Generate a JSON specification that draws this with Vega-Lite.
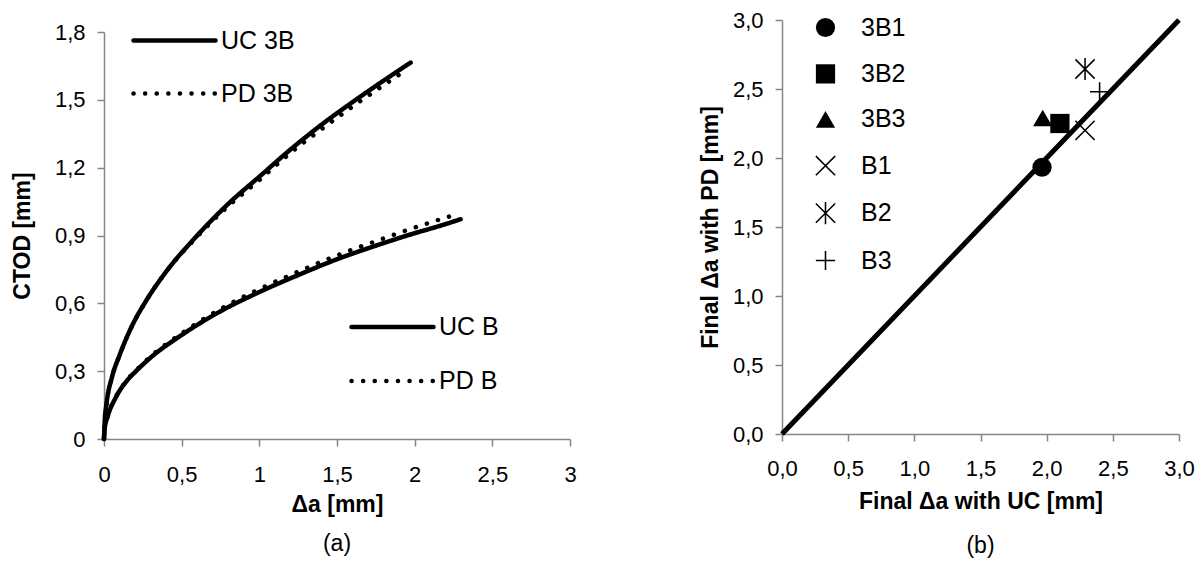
{
  "$schema": "https://vega.github.io/schema/vega-lite/v6.json",
  "background": "white",
  "padding": {"left": 11, "top": 9, "right": 0, "bottom": 0},
  "bounds": "flush",
  "spacing": 212,
  "resolve": {"scale": {"shape": "independent", "strokeDash": "independent"}, "legend": {"shape": "independent", "strokeDash": "independent"}},
  "config": {
    "view": {"stroke": null},
    "font": "Liberation Sans",
    "axis": {
      "grid": false,
      "labelFlush": false,
      "domainColor": "#868686",
      "tickColor": "#868686",
      "domainWidth": 1.5,
      "tickWidth": 1.5,
      "tickSize": 7,
      "labelColor": "black",
      "labelFont": "Liberation Sans",
      "labelFontSize": 22,
      "titleColor": "black",
      "titleFont": "Liberation Sans",
      "titleFontSize": 23,
      "titleFontWeight": "bold"
    },
    "title": {"orient": "bottom", "fontSize": 23, "fontWeight": "normal", "font": "Liberation Sans", "color": "black", "offset": 17}
  },
  "datasets": {
    "curves": [
      {"grp": "3B", "series": "UC 3B", "a": 0, "ctod": 0},
      {"grp": "3B", "series": "UC 3B", "a": 0.004, "ctod": 0.07},
      {"grp": "3B", "series": "UC 3B", "a": 0.017, "ctod": 0.16},
      {"grp": "3B", "series": "UC 3B", "a": 0.05, "ctod": 0.27},
      {"grp": "3B", "series": "UC 3B", "a": 0.1, "ctod": 0.37},
      {"grp": "3B", "series": "UC 3B", "a": 0.18, "ctod": 0.5},
      {"grp": "3B", "series": "UC 3B", "a": 0.27, "ctod": 0.61},
      {"grp": "3B", "series": "UC 3B", "a": 0.4, "ctod": 0.74},
      {"grp": "3B", "series": "UC 3B", "a": 0.6, "ctod": 0.9},
      {"grp": "3B", "series": "UC 3B", "a": 0.8, "ctod": 1.04},
      {"grp": "3B", "series": "UC 3B", "a": 1.0, "ctod": 1.16},
      {"grp": "3B", "series": "UC 3B", "a": 1.2, "ctod": 1.28},
      {"grp": "3B", "series": "UC 3B", "a": 1.4, "ctod": 1.39},
      {"grp": "3B", "series": "UC 3B", "a": 1.6, "ctod": 1.49},
      {"grp": "3B", "series": "UC 3B", "a": 1.8, "ctod": 1.585},
      {"grp": "3B", "series": "UC 3B", "a": 1.974, "ctod": 1.665},
      {"grp": "3B", "series": "PD 3B", "a": 0, "ctod": 0},
      {"grp": "3B", "series": "PD 3B", "a": 0.004, "ctod": 0.07},
      {"grp": "3B", "series": "PD 3B", "a": 0.017, "ctod": 0.16},
      {"grp": "3B", "series": "PD 3B", "a": 0.05, "ctod": 0.27},
      {"grp": "3B", "series": "PD 3B", "a": 0.1, "ctod": 0.37},
      {"grp": "3B", "series": "PD 3B", "a": 0.18, "ctod": 0.5},
      {"grp": "3B", "series": "PD 3B", "a": 0.27, "ctod": 0.61},
      {"grp": "3B", "series": "PD 3B", "a": 0.4, "ctod": 0.74},
      {"grp": "3B", "series": "PD 3B", "a": 0.6, "ctod": 0.895},
      {"grp": "3B", "series": "PD 3B", "a": 0.8, "ctod": 1.03},
      {"grp": "3B", "series": "PD 3B", "a": 1.0, "ctod": 1.145},
      {"grp": "3B", "series": "PD 3B", "a": 1.2, "ctod": 1.265},
      {"grp": "3B", "series": "PD 3B", "a": 1.4, "ctod": 1.37},
      {"grp": "3B", "series": "PD 3B", "a": 1.6, "ctod": 1.47},
      {"grp": "3B", "series": "PD 3B", "a": 1.8, "ctod": 1.565},
      {"grp": "3B", "series": "PD 3B", "a": 1.93, "ctod": 1.625},
      {"grp": "B", "series": "UC B", "a": 0, "ctod": 0},
      {"grp": "B", "series": "UC B", "a": 0.004, "ctod": 0.045},
      {"grp": "B", "series": "UC B", "a": 0.024, "ctod": 0.1},
      {"grp": "B", "series": "UC B", "a": 0.077, "ctod": 0.185},
      {"grp": "B", "series": "UC B", "a": 0.15, "ctod": 0.26},
      {"grp": "B", "series": "UC B", "a": 0.206, "ctod": 0.3},
      {"grp": "B", "series": "UC B", "a": 0.3, "ctod": 0.36},
      {"grp": "B", "series": "UC B", "a": 0.5, "ctod": 0.46},
      {"grp": "B", "series": "UC B", "a": 0.75, "ctod": 0.565},
      {"grp": "B", "series": "UC B", "a": 1.0, "ctod": 0.65},
      {"grp": "B", "series": "UC B", "a": 1.25, "ctod": 0.725},
      {"grp": "B", "series": "UC B", "a": 1.5, "ctod": 0.795},
      {"grp": "B", "series": "UC B", "a": 1.75, "ctod": 0.855},
      {"grp": "B", "series": "UC B", "a": 2.0, "ctod": 0.91},
      {"grp": "B", "series": "UC B", "a": 2.15, "ctod": 0.94},
      {"grp": "B", "series": "UC B", "a": 2.296, "ctod": 0.972},
      {"grp": "B", "series": "PD B", "a": 0, "ctod": 0},
      {"grp": "B", "series": "PD B", "a": 0.004, "ctod": 0.045},
      {"grp": "B", "series": "PD B", "a": 0.024, "ctod": 0.1},
      {"grp": "B", "series": "PD B", "a": 0.077, "ctod": 0.187},
      {"grp": "B", "series": "PD B", "a": 0.15, "ctod": 0.262},
      {"grp": "B", "series": "PD B", "a": 0.206, "ctod": 0.303},
      {"grp": "B", "series": "PD B", "a": 0.3, "ctod": 0.365},
      {"grp": "B", "series": "PD B", "a": 0.5, "ctod": 0.467},
      {"grp": "B", "series": "PD B", "a": 0.75, "ctod": 0.575},
      {"grp": "B", "series": "PD B", "a": 1.0, "ctod": 0.663},
      {"grp": "B", "series": "PD B", "a": 1.25, "ctod": 0.74},
      {"grp": "B", "series": "PD B", "a": 1.5, "ctod": 0.812},
      {"grp": "B", "series": "PD B", "a": 1.75, "ctod": 0.875},
      {"grp": "B", "series": "PD B", "a": 2.0, "ctod": 0.935},
      {"grp": "B", "series": "PD B", "a": 2.25, "ctod": 0.99}
    ],
    "final": [
      {"specimen": "3B1", "uc": 1.965, "pd": 1.933},
      {"specimen": "3B2", "uc": 2.1, "pd": 2.25},
      {"specimen": "3B3", "uc": 1.97, "pd": 2.29},
      {"specimen": "B1", "uc": 2.29, "pd": 2.2},
      {"specimen": "B2", "uc": 2.29, "pd": 2.645},
      {"specimen": "B3", "uc": 2.4, "pd": 2.48}
    ],
    "diag": [
      {"uc": 0, "pd": 0},
      {"uc": 3, "pd": 3}
    ]
  },
  "hconcat": [
    {
      "width": 466,
      "height": 419,
      "title": {"text": "(a)", "offset": 17},
      "layer": [
        {
          "data": {"name": "curves"},
          "transform": [{"filter": "datum.grp === '3B'"}],
          "mark": {"type": "line", "color": "black", "strokeWidth": 4.5, "strokeCap": "round", "interpolate": "monotone"},
          "encoding": {
            "x": {"field": "a", "type": "quantitative", "title": "Δa [mm]",
                  "scale": {"domain": [0, 3], "nice": false},
                  "axis": {"values": [0, 0.5, 1, 1.5, 2, 2.5, 3], "labelExpr": "replace(toString(datum.value), '.', ',')", "labelPadding": 18, "titlePadding": 8}},
            "y": {"field": "ctod", "type": "quantitative", "title": "CTOD [mm]",
                  "scale": {"domain": [0, 1.8], "nice": false, "range": [419, 12]},
                  "axis": {"values": [0, 0.3, 0.6, 0.9, 1.2, 1.5, 1.8], "labelExpr": "replace(toString(datum.value), '.', ',')", "labelPadding": 12, "titlePadding": 20}},
            "strokeDash": {"field": "series", "type": "nominal",
                  "scale": {"domain": ["UC 3B", "PD 3B"], "range": [[1, 0], [0.1, 11.5]]},
                  "legend": {"orient": "none", "legendX": 27, "legendY": -6, "title": null, "symbolType": "stroke", "symbolSize": 6724, "symbolStrokeWidth": 4.5, "symbolStrokeColor": "black", "labelFontSize": 25, "labelFont": "Liberation Sans", "labelColor": "black", "labelOffset": 3, "rowPadding": 0, "clipHeight": 53,
                             "encode": {"symbols": {"update": {"strokeCap": {"value": "round"}}}}}},
            "order": {"field": "a", "type": "quantitative"}
          }
        },
        {
          "data": {"name": "curves"},
          "transform": [{"filter": "datum.grp === 'B'"}],
          "mark": {"type": "line", "color": "black", "strokeWidth": 4.5, "strokeCap": "round", "interpolate": "monotone"},
          "encoding": {
            "x": {"field": "a", "type": "quantitative"},
            "y": {"field": "ctod", "type": "quantitative"},
            "strokeDash": {"field": "series", "type": "nominal",
                  "scale": {"domain": ["UC B", "PD B"], "range": [[1, 0], [0.1, 11.5]]},
                  "legend": {"orient": "none", "legendX": 245, "legendY": 280, "title": null, "symbolType": "stroke", "symbolSize": 6724, "symbolStrokeWidth": 4.5, "symbolStrokeColor": "black", "labelFontSize": 25, "labelFont": "Liberation Sans", "labelColor": "black", "labelOffset": 3, "rowPadding": 0, "clipHeight": 54,
                             "encode": {"symbols": {"update": {"strokeCap": {"value": "round"}}}}}},
            "order": {"field": "a", "type": "quantitative"}
          }
        }
      ],
      "resolve": {"scale": {"strokeDash": "independent"}, "legend": {"strokeDash": "independent"}}
    },
    {
      "width": 397,
      "height": 414,
      "title": {"text": "(b)", "offset": 22},
      "layer": [
        {
          "data": {"name": "diag"},
          "mark": {"type": "line", "color": "black", "strokeWidth": 5},
          "encoding": {
            "x": {"field": "uc", "type": "quantitative", "title": "Final Δa with UC [mm]",
                  "scale": {"domain": [0, 3], "nice": false},
                  "axis": {"values": [0, 0.5, 1, 1.5, 2, 2.5, 3], "labelExpr": "replace(format(datum.value, '.1f'), '.', ',')", "labelPadding": 17, "titlePadding": 11}},
            "y": {"field": "pd", "type": "quantitative", "title": "Final Δa with PD [mm]",
                  "scale": {"domain": [0, 3], "nice": false},
                  "axis": {"values": [0, 0.5, 1, 1.5, 2, 2.5, 3], "labelExpr": "replace(format(datum.value, '.1f'), '.', ',')", "labelPadding": 12, "titlePadding": 10}}
          }
        },
        {
          "data": {"name": "final"},
          "mark": {"type": "point", "filled": true, "color": "black", "opacity": 1, "size": 370},
          "encoding": {
            "x": {"field": "uc", "type": "quantitative"},
            "y": {"field": "pd", "type": "quantitative"},
            "shape": {"field": "specimen", "type": "nominal",
                  "scale": {"domain": ["3B1", "3B2", "3B3", "B1", "B2", "B3"],
                            "range": [
                              "circle",
                              "square",
                              "triangle-up",
                              "M-0.943,-1.057L1.057,0.943L0.943,1.057L-1.057,-0.943ZM1.057,-0.943L-0.943,1.057L-1.057,0.943L0.943,-1.057Z",
                              "M-0.943,-1.057L1.057,0.943L0.943,1.057L-1.057,-0.943ZM1.057,-0.943L-0.943,1.057L-1.057,0.943L0.943,-1.057ZM-0.08,-1.15L0.08,-1.15L0.08,1.15L-0.08,1.15Z",
                              "M-1,-0.08L1,-0.08L1,0.08L-1,0.08ZM-0.08,-1L0.08,-1L0.08,1L-0.08,1Z"
                            ]},
                  "legend": {"orient": "none", "legendX": 31, "legendY": -5, "title": null, "symbolSize": 370, "symbolFillColor": "black", "symbolStrokeColor": "black", "labelFontSize": 25, "labelFont": "Liberation Sans", "labelColor": "black", "labelOffset": 23, "rowPadding": 19.4,
                             "encode": {"symbols": {"update": {"fill": {"value": "black"}, "opacity": {"value": 1}}}}}}
          }
        }
      ]
    }
  ]
}
